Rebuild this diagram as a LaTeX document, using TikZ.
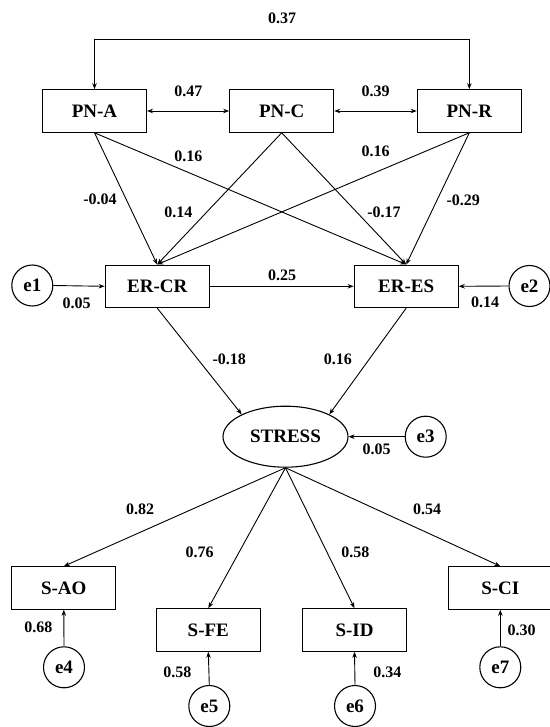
\documentclass[tikz,border=0pt]{standalone}
\usepackage{fontspec}
\setmainfont{Liberation Serif}
\usetikzlibrary{shapes.geometric,arrows.meta}
\tikzset{
  varbox/.style={draw, line width=1.1pt, rectangle, minimum width=104pt, minimum height=42.5pt, inner sep=0pt, font=\bfseries\fontsize{19}{20}\selectfont},
  errc/.style={draw, line width=1.1pt, circle, minimum size=41pt, inner sep=0pt, font=\bfseries\fontsize{19}{20}\selectfont},
  latent/.style={draw, line width=1.1pt, ellipse, minimum width=125pt, minimum height=61pt, inner sep=0pt, font=\bfseries\fontsize{19}{20}\selectfont},
  lbl/.style={inner sep=0pt, font=\bfseries\fontsize{16}{18}\selectfont},
  conn/.style={line width=0.9pt, -{Stealth[length=6pt,width=4.5pt]}},
  biconn/.style={line width=0.9pt, {Stealth[length=6pt,width=4.5pt]}-{Stealth[length=6pt,width=4.5pt]}}
}
\begin{document}
\begin{tikzpicture}[x=1pt,y=-1pt]
\useasboundingbox (0,0) rectangle (549,727);
\fill[white] (0,0) rectangle (549,727);
% nodes
\node[varbox] (pna) at (94.5,111) {PN-A};
\node[varbox] (pnc) at (281.7,111) {PN-C};
\node[varbox] (pnr) at (469.3,111) {PN-R};
\node[varbox] (ercr) at (157.2,286.3) {ER-CR};
\node[varbox] (eres) at (406.2,286.3) {ER-ES};
\node[errc] (e1) at (32.3,285.5) {e1};
\node[errc] (e2) at (529.5,286) {e2};
\node[latent] (stress) at (285.5,436.7) {STRESS};
\node[errc] (e3) at (425.7,436.7) {e3};
\node[varbox] (sao) at (63.8,588) {S-AO};
\node[varbox] (sfe) at (208.3,630) {S-FE};
\node[varbox] (sid) at (354.5,630) {S-ID};
\node[varbox] (sci) at (500.3,588) {S-CI};
\node[errc] (e4) at (64,667.3) {e4};
\node[errc] (e5) at (209.3,706) {e5};
\node[errc] (e6) at (355,706) {e6};
\node[errc] (e7) at (500.3,667.3) {e7};
% top covariance
\coordinate (tl) at (94.5,39.3);
\coordinate (tr) at (469.3,39.3);
\draw[biconn] (pna.north) -- (tl) -- (tr) -- (pnr.north);
\draw[biconn] (pna.east) -- (pnc.west);
\draw[biconn] (pnc.east) -- (pnr.west);
% paths PN -> ER
\draw[conn] (pna.south) -- (ercr.north);
\draw[conn] (pna.south) -- (eres.north);
\draw[conn] (pnc.south) -- (ercr.north);
\draw[conn] (pnc.south) -- (eres.north);
\draw[conn] (pnr.south) -- (ercr.north);
\draw[conn] (pnr.south) -- (eres.north);
% ER
\draw[conn] (e1.east) -- (ercr.west);
\draw[conn] (ercr.east) -- (eres.west);
\draw[conn] (e2.west) -- (eres.east);
% to stress
\draw[conn] (ercr.south) -- (stress.153);
\draw[conn] (eres.south) -- (stress.27);
\draw[conn] (e3.west) -- (stress.east);
% loadings
\draw[conn] (stress.south) -- (sao.north);
\draw[conn] (stress.south) -- (sfe.north);
\draw[conn] (stress.south) -- (sid.north);
\draw[conn] (stress.south) -- (sci.north);
\draw[conn] (e4.north) -- (sao.south);
\draw[conn] (e5.north) -- (sfe.south);
\draw[conn] (e6.north) -- (sid.south);
\draw[conn] (e7.north) -- (sci.south);
% labels
\node[lbl] (l037) at (282,18.5) {0.37};
\node[lbl] (l047) at (188.3,91) {0.47};
\node[lbl] (l039) at (375.7,91) {0.39};
\node[lbl] (l016a) at (188.3,156.7) {0.16};
\node[lbl] (l016b) at (375.7,151) {0.16};
\node[lbl] (l004) at (100,199) {-0.04};
\node[lbl] (l014) at (178.3,212.7) {0.14};
\node[lbl] (l017) at (384,212.3) {-0.17};
\node[lbl] (l029) at (463.3,200) {-0.29};
\node[lbl] (l025) at (282,275) {0.25};
\node[lbl] (l005a) at (76.7,303.3) {0.05};
\node[lbl] (l014b) at (485,302.3) {0.14};
\node[lbl] (l018) at (229.3,359.6) {-0.18};
\node[lbl] (l016c) at (337.9,359.6) {0.16};
\node[lbl] (l005b) at (376.7,449.3) {0.05};
\node[lbl] (l082) at (140,509.2) {0.82};
\node[lbl] (l076) at (199.6,552.3) {0.76};
\node[lbl] (l058a) at (355.4,552.3) {0.58};
\node[lbl] (l054) at (427.2,509.2) {0.54};
\node[lbl] (l068) at (38.3,627.3) {0.68};
\node[lbl] (l058b) at (177.3,672.7) {0.58};
\node[lbl] (l034) at (387.3,672.7) {0.34};
\node[lbl] (l030) at (521.7,630.7) {0.30};
\end{tikzpicture}
\end{document}
